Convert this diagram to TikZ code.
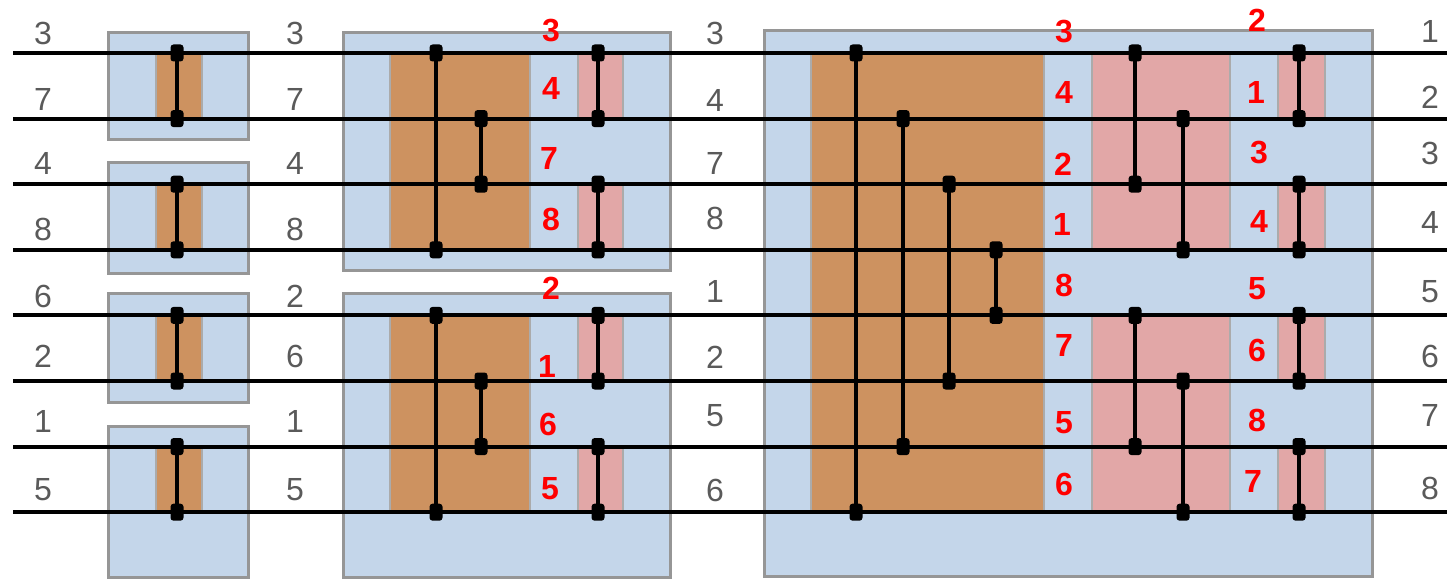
\documentclass[tikz,border=0pt]{standalone}
\usepackage{fontspec}
\setmainfont{Liberation Sans}
\definecolor{boxblue}{RGB}{196,214,234}
\definecolor{boxorange}{RGB}{205,146,96}
\definecolor{boxpink}{RGB}{226,167,167}
\definecolor{boxedge}{RGB}{150,150,150}
\definecolor{labgray}{RGB}{90,90,90}
\newcommand\cmpr[4]{%
  \coordinate (#1a) at (#2,{53+(#3-1)*65.6});
  \coordinate (#1b) at (#2,{53+(#4-1)*65.6});
  \node[dot] (#1p) at (#1a) {};
  \node[dot] (#1q) at (#1b) {};
  \draw[comp] (#1p.center) -- (#1q.center);
}
\newcommand\wyy[1]{{53+(#1-1)*65.6}}
\begin{document}
\begin{tikzpicture}[x=1pt,y=-1pt,
  outerbox/.style={fill=boxblue, draw=boxedge, line width=3pt},
  orangebox/.style={fill=boxorange, draw=boxedge!80, line width=1.4pt},
  pinkbox/.style={fill=boxpink, draw=boxedge!80, line width=1.4pt},
  wire/.style={line width=4pt, black},
  comp/.style={line width=4.5pt, black},
  dot/.style={fill=black, rectangle, rounded corners=3pt, minimum width=13pt, minimum height=17pt, inner sep=0pt},
  glab/.style={text=labgray, font=\fontsize{32}{32}\selectfont, inner sep=0pt},
  rlab/.style={text=red, font=\bfseries\fontsize{32}{32}\selectfont, inner sep=0pt}]
\useasboundingbox (0,0) rectangle (1447,580);
% ---- block 1
\draw[outerbox] (108,33) rectangle (248,140);
\draw[outerbox] (108,163) rectangle (248,273);
\draw[outerbox] (108,293) rectangle (248,402);
\draw[outerbox] (108,426) rectangle (248,577);
\foreach \i in {1,3,5,7}{
  \draw[orangebox] (156,\wyy{\i}) rectangle (202,\wyy{\i+1});
}
% ---- block 2
\draw[outerbox] (343,33) rectangle (670,270);
\draw[outerbox] (343,293) rectangle (670,577);
\draw[orangebox] (390,\wyy{1}) rectangle (530,\wyy{4});
\draw[orangebox] (390,\wyy{5}) rectangle (530,\wyy{8});
\foreach \i in {1,3,5,7}{
  \draw[pinkbox] (578,\wyy{\i}) rectangle (623,\wyy{\i+1});
}
% ---- block 3
\draw[outerbox] (764,31) rectangle (1372,576);
\draw[orangebox] (811,\wyy{1}) rectangle (1044,\wyy{8});
\draw[pinkbox] (1092,\wyy{1}) rectangle (1230,\wyy{4});
\draw[pinkbox] (1092,\wyy{5}) rectangle (1230,\wyy{8});
\foreach \i in {1,3,5,7}{
  \draw[pinkbox] (1278,\wyy{\i}) rectangle (1325,\wyy{\i+1});
}
% ---- wires
\foreach \i in {1,...,8}{
  \coordinate (wL\i) at (13,\wyy{\i});
  \coordinate (wR\i) at (1447,\wyy{\i});
  \draw[wire] (wL\i) -- (wR\i);
}
% ---- comparators
\cmpr{a1}{177}{1}{2}
\cmpr{a2}{177}{3}{4}
\cmpr{a3}{177}{5}{6}
\cmpr{a4}{177}{7}{8}
\cmpr{b1}{436}{1}{4}
\cmpr{b2}{481}{2}{3}
\cmpr{b3}{598}{1}{2}
\cmpr{b4}{598}{3}{4}
\cmpr{b5}{436}{5}{8}
\cmpr{b6}{481}{6}{7}
\cmpr{b7}{598}{5}{6}
\cmpr{b8}{598}{7}{8}
\cmpr{c1}{856}{1}{8}
\cmpr{c2}{903}{2}{7}
\cmpr{c3}{949}{3}{6}
\cmpr{c4}{996}{4}{5}
\cmpr{c5}{1135}{1}{3}
\cmpr{c6}{1183}{2}{4}
\cmpr{c7}{1135}{5}{7}
\cmpr{c8}{1183}{6}{8}
\cmpr{c9}{1299}{1}{2}
\cmpr{c10}{1299}{3}{4}
\cmpr{c11}{1299}{5}{6}
\cmpr{c12}{1299}{7}{8}
% ---- gray labels
\foreach \t/\y [count=\k] in {3/33.5,7/99.5,4/163,8/229,6/296,2/356,1/421,5/490}
  \node[glab] (gA\k) at (43,\y) {\t};
\foreach \t/\y [count=\k] in {3/33.5,7/99.5,4/163,8/229,2/296,6/356,1/421,5/490}
  \node[glab] (gB\k) at (295,\y) {\t};
\foreach \t/\y [count=\k] in {3/33,4/100,7/163,8/218,1/291,2/357,5/416,6/490}
  \node[glab] (gC\k) at (715,\y) {\t};
\foreach \t/\y [count=\k] in {1/31,2/97,3/153,4/222,5/292,6/356,7/415,8/488}
  \node[glab] (gD\k) at (1430,\y) {\t};
% ---- red labels
\foreach \t/\x/\y [count=\k] in {3/551/31,4/551/88,7/549/158,8/551/219,2/551/288,1/547/366,6/548/424,5/550/489}
  \node[rlab] (rA\k) at (\x,\y) {\t};
\foreach \t/\x/\y [count=\k] in {3/1064/32,4/1064/92,2/1063/164,1/1062/224,8/1064/285,7/1064/345,5/1064/423,6/1064/484}
  \node[rlab] (rB\k) at (\x,\y) {\t};
\foreach \t/\x/\y [count=\k] in {2/1257/20,1/1256/92,3/1259/153,4/1259/221,5/1257/289,6/1257/350,8/1257/420,7/1253/481}
  \node[rlab] (rC\k) at (\x,\y) {\t};
\end{tikzpicture}
\end{document}
